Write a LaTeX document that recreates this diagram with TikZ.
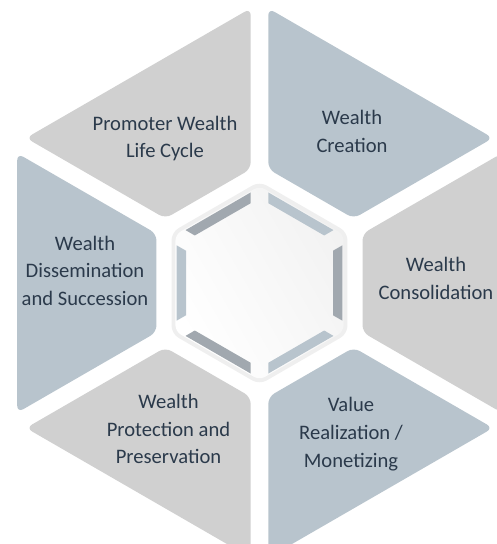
\documentclass[tikz,border=0pt]{standalone}
\usepackage{fontspec}
\setmainfont{Carlito}
\definecolor{segGray}{HTML}{D0D0D0}
\definecolor{segBlue}{HTML}{B8C4CD}
\definecolor{barGray}{HTML}{A1A8AF}
\definecolor{barBlue}{HTML}{B8C4CD}
\definecolor{rimGray}{HTML}{EFEFEF}
\definecolor{txtDark}{HTML}{2B3A4B}
\begin{document}
\begin{tikzpicture}[x=1bp,y=1bp,
    label/.style={align=center,text=txtDark,inner sep=0pt,
      font=\fontsize{20.6bp}{27.7bp}\selectfont}]
      \useasboundingbox (-259.5,-261) rectangle (237.5,283);
      % six outer segments
      \foreach \a/\c in {0/segGray,60/segBlue,120/segGray,180/segBlue,240/segGray,300/segBlue}{
        \fill[\c,rounded corners=7bp,rotate=\a]
          (242.3,129.7) -- (242.3,-129.7) -- (103,-49.3) -- (103,49.3) -- cycle;
      }
      % centre hexagon
      \fill[rimGray,rounded corners=8bp]
        (30:101.6) -- (90:101.6) -- (150:101.6) -- (210:101.6) -- (270:101.6) -- (330:101.6) -- cycle;
      \shade[left color=black!5,right color=white,shading angle=-60,rounded corners=6bp]
        (30:97) -- (90:97) -- (150:97) -- (210:97) -- (270:97) -- (330:97) -- cycle;
      \foreach \a/\c in {0/barGray,60/barBlue,120/barGray,180/barBlue,240/barGray,300/barBlue}{
        \fill[\c,rotate=\a]
          (82.8,37.6) -- (82.8,-37.6) -- (73.5,-32.3) -- (73.5,32.3) -- cycle;
      }
      % labels
      \node[label] (promoter) at (-94.5,144.5) {Promoter Wealth\\Life Cycle};
      \node[label] (creation) at (92.5,151.8) {Wealth\\Creation};
      \node[label] (consolidation) at (176.5,4.5) {Wealth\\Consolidation};
      \node[label] (value) at (91.5,-151) {Value\\Realization /\\Monetizing};
      \node[label] (protection) at (-91,-146.2) {Wealth\\Protection and\\Preservation};
      \node[label] (dissemination) at (-174.5,12.3) {Wealth\\Dissemination\\and Succession};
    \end{tikzpicture}
\end{document}
